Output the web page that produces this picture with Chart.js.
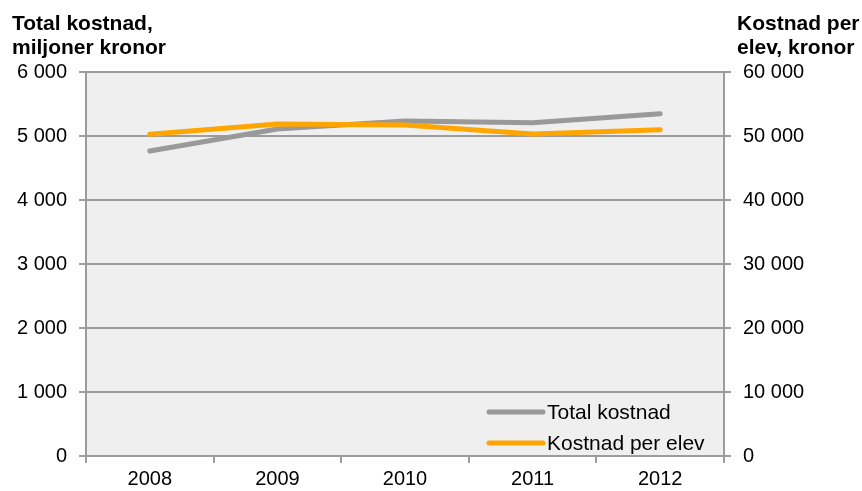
<!DOCTYPE html>
<html>
<head>
<meta charset="utf-8">
<script src="https://cdn.jsdelivr.net/npm/chart.js@4/dist/chart.umd.min.js"></script>
<style>
  html, body { margin: 0; padding: 0; background: #fff; }
  #wrap { width: 862px; height: 491px; position: relative; }
</style>
</head>
<body>
<div id="wrap"><canvas id="chart"></canvas></div>
<script>
/* ===== data ===== */
const years = ["2008", "2009", "2010", "2011", "2012"];
const totalKostnad = [4766, 5109, 5234, 5208, 5349];        // miljoner kronor
const kostnadPerElev = [50260, 51875, 51720, 50310, 50990];  // kronor
const leftTicks = [0, 1000, 2000, 3000, 4000, 5000, 6000];
const rightTicks = [0, 10000, 20000, 30000, 40000, 50000, 60000];

const FONT = "'Liberation Sans', Arial, sans-serif";
const GRID = "#9c9c9c";

// "6 000" style numbers
const fmt = v => String(v).replace(/\B(?=(\d{3})+(?!\d))/g, " ");

/* ===== plugins ===== */
const plotBg = {
  id: "plotBg",
  beforeDraw(chart) {
    const { ctx, chartArea: a } = chart;
    ctx.save();
    ctx.fillStyle = "#efefef";
    ctx.fillRect(a.left, a.top, a.right - a.left, a.bottom - a.top);
    ctx.restore();
  }
};

const titles = {
  id: "titles",
  afterDraw(chart) {
    const ctx = chart.ctx;
    ctx.save();
    ctx.fillStyle = "#000";
    ctx.font = "bold 21px " + FONT;
    ctx.textBaseline = "alphabetic";
    ctx.textAlign = "left";
    ctx.fillText("Total kostnad,", 12, 30);
    ctx.fillText("miljoner kronor", 12, 54);
    ctx.fillText("Kostnad per", 737, 30);
    ctx.fillText("elev, kronor", 737, 54);
    ctx.restore();
  }
};

// legend drawn inside the plot, bottom right
const innerLegend = {
  id: "innerLegend",
  afterDatasetsDraw(chart) {
    const ctx = chart.ctx;
    const a = chart.chartArea;
    ctx.save();
    ctx.font = "21px " + FONT;
    ctx.textBaseline = "middle";
    chart.data.datasets.forEach((ds, i) => {
      const y = a.bottom - 44 + i * 31;
      const x0 = a.left + 403;
      ctx.strokeStyle = ds.borderColor;
      ctx.lineWidth = 5;
      ctx.lineCap = "round";
      ctx.beginPath();
      ctx.moveTo(x0, y);
      ctx.lineTo(x0 + 54, y);
      ctx.stroke();
      ctx.fillStyle = "#000";
      ctx.fillText(ds.label, x0 + 58, y + 1);
    });
    ctx.restore();
  }
};

/* ===== chart ===== */
new Chart(document.getElementById("chart"), {
  type: "line",
  data: {
    labels: years,
    datasets: [
      {
        label: "Total kostnad",
        data: totalKostnad,
        yAxisID: "y",
        borderColor: "#999999",
        borderWidth: 5,
        borderCapStyle: "round",
        pointRadius: 0,
        tension: 0,
        order: 2
      },
      {
        label: "Kostnad per elev",
        data: kostnadPerElev,
        yAxisID: "y1",
        borderColor: "#ffa500",
        borderWidth: 5,
        borderCapStyle: "round",
        pointRadius: 0,
        tension: 0,
        order: 1
      }
    ]
  },
  options: {
    responsive: true,
    maintainAspectRatio: false,
    animation: false,
    layout: { padding: { top: 72, left: 0, right: 0, bottom: 0 } },
    plugins: {
      legend: { display: false },
      tooltip: { enabled: false }
    },
    scales: {
      x: {
        offset: true,
        border: { color: GRID, width: 2 },
        grid: { offset: true, drawOnChartArea: false, drawTicks: true, tickLength: 7, color: GRID, lineWidth: 2 },
        ticks: { color: "#000", font: { family: FONT, size: 20 }, padding: 4, maxRotation: 0 },
        afterFit: s => { s.height = 35; }
      },
      y: {
        position: "left",
        min: 0,
        max: 6000,
        afterBuildTicks: s => { s.ticks = leftTicks.map(v => ({ value: v })); },
        border: { color: GRID, width: 2 },
        grid: { color: GRID, lineWidth: 2, tickLength: 7 },
        ticks: { color: "#000", font: { family: FONT, size: 20 }, padding: 12, callback: v => fmt(v) },
        afterFit: s => { s.width = 86; }
      },
      y1: {
        position: "right",
        min: 0,
        max: 60000,
        afterBuildTicks: s => { s.ticks = rightTicks.map(v => ({ value: v })); },
        border: { color: GRID, width: 2 },
        grid: { drawOnChartArea: false, color: GRID, lineWidth: 2, tickLength: 7 },
        ticks: { color: "#000", font: { family: FONT, size: 20 }, padding: 12, callback: v => fmt(v) },
        afterFit: s => { s.width = 138; }
      }
    }
  },
  plugins: [plotBg, innerLegend, titles]
});
</script>
</body>
</html>
